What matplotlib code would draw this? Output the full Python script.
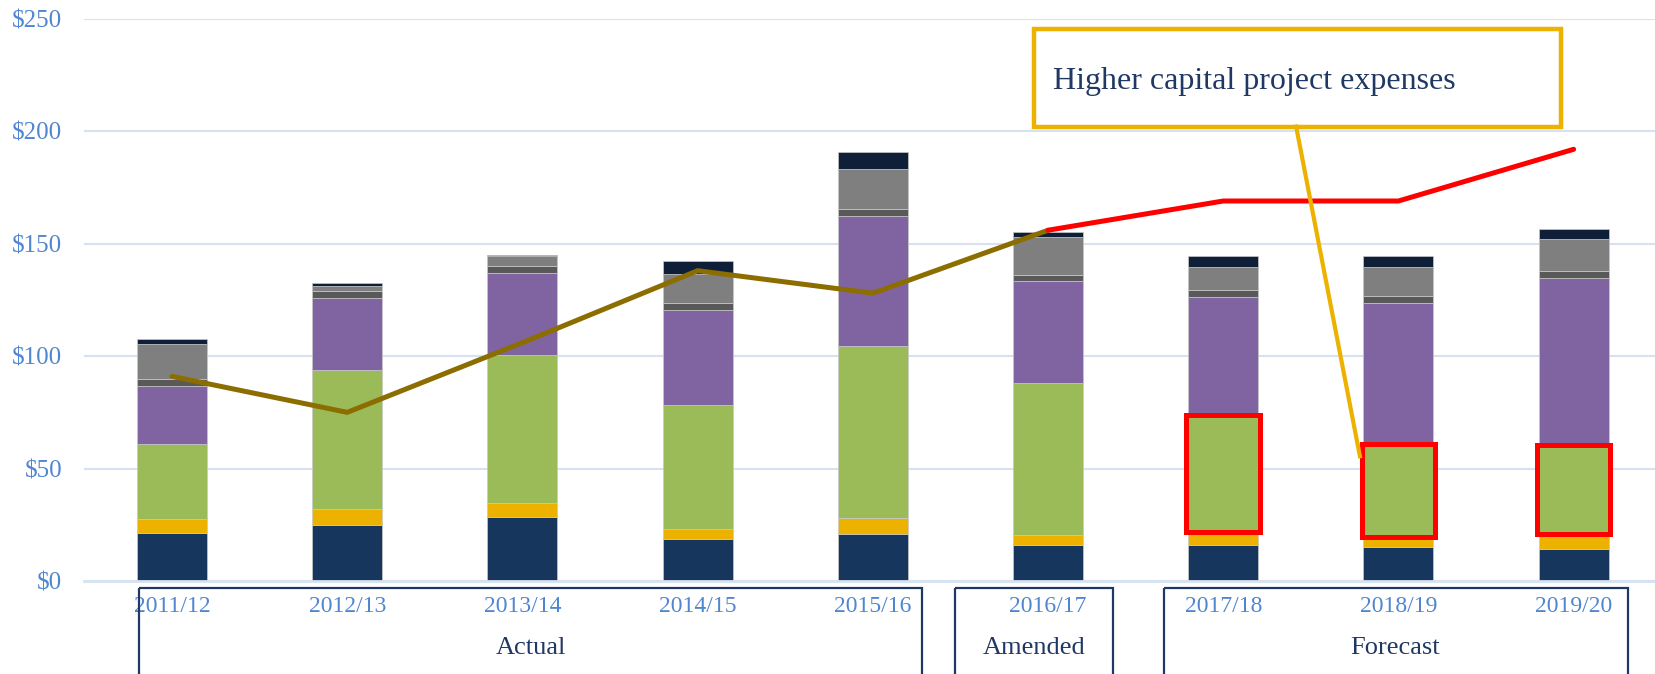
import matplotlib.pyplot as plt
from matplotlib.patches import Rectangle
import numpy as np

plt.rcParams['font.family'] = ['Liberation Serif', 'DejaVu Serif']

years = ['2011/12', '2012/13', '2013/14', '2014/15', '2015/16',
         '2016/17', '2017/18', '2018/19', '2019/20']
# stacked segments, bottom to top ($ millions)
seg_navy = [21.5, 25.0, 28.6, 18.5, 20.8, 15.8, 16.2, 15.1, 14.3]
seg_orange = [6.1, 7.0, 6.3, 4.6, 7.0, 4.6, 5.7, 4.5, 6.7]
seg_green = [33.2, 62.0, 65.4, 55.1, 76.7, 67.7, 51.9, 41.4, 39.5]
seg_purple = [25.7, 32.0, 36.6, 42.1, 58.0, 45.4, 52.4, 62.8, 74.1]
seg_dkgray = [3.3, 3.1, 3.3, 3.5, 2.8, 2.7, 3.1, 3.0, 3.3]
seg_gray = [15.8, 1.9, 4.2, 12.9, 18.0, 16.7, 10.5, 13.0, 14.1]
seg_top = [2.0, 1.7, 0.7, 5.7, 7.6, 2.3, 4.6, 4.7, 4.4]

line_actual = [91, 75, 106, 138, 128, 156]      # 2011/12 .. 2016/17
line_forecast = [156, 169, 169, 192]            # 2016/17 .. 2019/20

groups = ['Actual', 'Amended', 'Forecast']
group_span = [(-0.19, 4.28), (4.47, 5.37), (5.66, 8.31)]
group_label_x = [2.05, 4.92, 6.98]
highlight = [6, 7, 8]

segments = [seg_navy, seg_orange, seg_green, seg_purple, seg_dkgray, seg_gray, seg_top]
colors = ['#17365D', '#EDB200', '#9BBB59', '#8064A2', '#595959', '#7F7F7F', '#0F1F38']

navy_txt = '#1F3864'
blue_txt = '#4F86CF'
grid_c = '#D6E2F1'

fig = plt.figure(figsize=(16.56, 6.74), dpi=100)
ax = fig.add_axes([0.051, 0.138, 0.949, 0.834])

x = np.arange(len(years))
w = 0.4
bottom = np.zeros(len(years))
for vals, c in zip(segments, colors):
    ax.bar(x, vals, w, bottom=bottom, color=c, edgecolor='#C8C8C8', linewidth=0.5, zorder=2)
    bottom += np.array(vals)

ax.plot(x[:6], line_actual, color='#8C6D00', lw=3.6, zorder=4, solid_capstyle='round')
ax.plot(x[5:], line_forecast, color='#FF0000', lw=3.6, zorder=4, solid_capstyle='round')

# red boxes around green segments in forecast years
for i in highlight:
    lo = seg_navy[i] + seg_orange[i]
    ax.add_patch(Rectangle((i - w / 2 - 0.01, lo), w + 0.02, seg_green[i],
                           fill=False, edgecolor='#FF0000', lw=3.6, zorder=5))

# callout
ax.add_patch(Rectangle((4.92, 202.1), 3.01, 43.2, facecolor='white',
                       edgecolor='#EDB200', lw=3.2, zorder=6, clip_on=False))
ax.text(5.03, 222, 'Higher capital project expenses', fontsize=23, color=navy_txt,
        va='center', ha='left', zorder=7)
ax.plot([6.416, 6.78], [202.1, 55.5], color='#EDB200', lw=3, zorder=6)

# group boxes below axis
for (a, b), name, lx in zip(group_span, groups, group_label_x):
    ax.add_patch(Rectangle((a, -3.3), b - a, -60, fill=False, edgecolor=navy_txt,
                           lw=1.6, clip_on=False))
    ax.text(lx, -30, name, fontsize=19, color=navy_txt, ha='center', va='center')

ax.set_xlim(-0.5, 8.47)
ax.set_ylim(0, 250)
ax.set_yticks(np.arange(0, 251, 50))
ax.set_yticklabels([f'${v}' for v in range(0, 251, 50)])
ax.set_xticks(x)
ax.set_xticklabels(years)
ax.tick_params(length=0, colors=blue_txt)
ax.tick_params(axis='x', pad=11, labelsize=17)
ax.tick_params(axis='y', pad=16, labelsize=18)
ax.grid(axis='y', color=grid_c, lw=1.5, zorder=0)
ax.set_axisbelow(True)
for s in ['top', 'right', 'left']:
    ax.spines[s].set_visible(False)
ax.spines['bottom'].set_color(grid_c)
ax.spines['bottom'].set_linewidth(2)

fig.savefig('out.png', dpi=100)
